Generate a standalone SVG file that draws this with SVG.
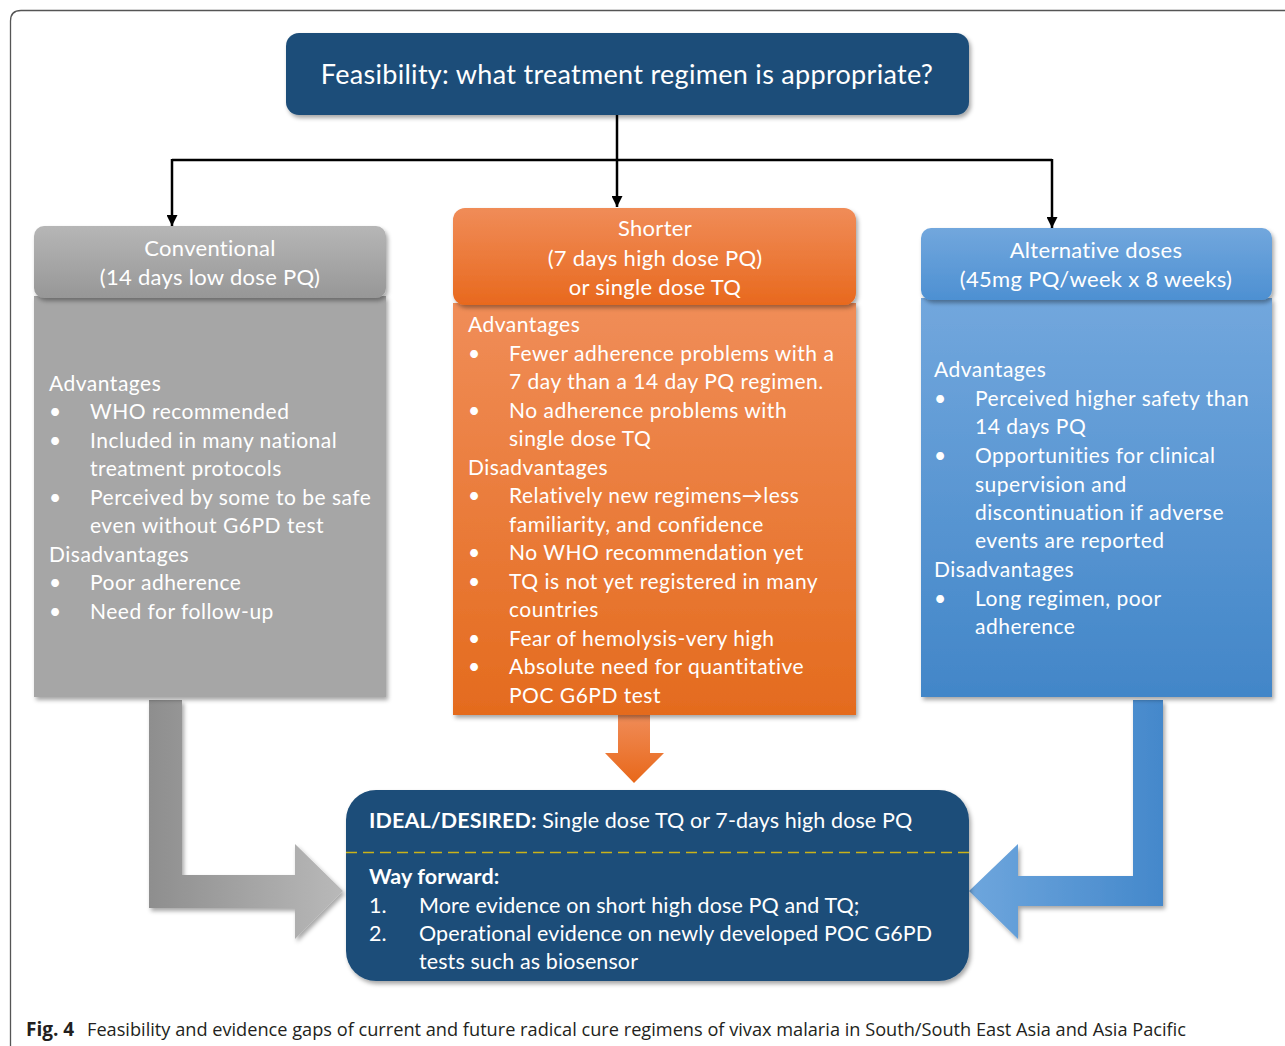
<svg xmlns="http://www.w3.org/2000/svg" width="1285" height="1046" viewBox="0 0 1285 1046">
  <defs>
    <style>
      .t { font-family: Lato, "Open Sans", sans-serif; fill: #ffffff; }
      .body { font-size: 21px; letter-spacing: 0.5px; }
      .head { font-size: 22px; letter-spacing: 0.3px; text-anchor: middle; }
      .low { font-size: 21.5px; letter-spacing: 0.1px; }
      .b { font-weight: bold; }
      .cap { font-family: "Open Sans", "Noto Sans", sans-serif; fill: #231f20; font-size: 19px; }
      .wire { fill: none; stroke: #000; stroke-width: 2.5; }
    </style>
    <filter id="shadow" x="-5%" y="-5%" width="110%" height="115%">
      <feDropShadow dx="2" dy="3" stdDeviation="2" flood-color="#000" flood-opacity="0.35"/>
    </filter>
    <marker id="tip" viewBox="0 0 10 10" refX="10" refY="5" markerUnits="userSpaceOnUse" markerWidth="11" markerHeight="11" orient="auto">
      <path d="M0,0 L10,5 L0,10 z" fill="#000"/>
    </marker>
    <linearGradient id="grayHead" x1="0" y1="0" x2="0" y2="1">
      <stop offset="0" stop-color="#b6b6b6"/>
      <stop offset="1" stop-color="#979797"/>
    </linearGradient>
    <linearGradient id="orangeHead" x1="0" y1="0" x2="0" y2="1">
      <stop offset="0" stop-color="#f08c58"/>
      <stop offset="1" stop-color="#e8691e"/>
    </linearGradient>
    <linearGradient id="orangeBody" x1="0" y1="0" x2="0" y2="1">
      <stop offset="0" stop-color="#f08d58"/>
      <stop offset="1" stop-color="#e46b1e"/>
    </linearGradient>
    <linearGradient id="blueHead" x1="0" y1="0" x2="0" y2="1">
      <stop offset="0" stop-color="#72a7dd"/>
      <stop offset="1" stop-color="#4d90d2"/>
    </linearGradient>
    <linearGradient id="blueBody" x1="0" y1="0" x2="0" y2="1">
      <stop offset="0" stop-color="#72a7dd"/>
      <stop offset="1" stop-color="#4286c8"/>
    </linearGradient>
    <linearGradient id="grayArrow" gradientUnits="userSpaceOnUse" x1="149" y1="0" x2="343" y2="0">
      <stop offset="0" stop-color="#8e8e8e"/>
      <stop offset="1" stop-color="#b9b9b9"/>
    </linearGradient>
    <linearGradient id="blueArrow" gradientUnits="userSpaceOnUse" x1="969" y1="0" x2="1163" y2="0">
      <stop offset="0" stop-color="#6ea6dd"/>
      <stop offset="1" stop-color="#4488cb"/>
    </linearGradient>
    <linearGradient id="orangeArrow" gradientUnits="userSpaceOnUse" x1="0" y1="715" x2="0" y2="783">
      <stop offset="0" stop-color="#f08c58"/>
      <stop offset="1" stop-color="#e8681a"/>
    </linearGradient>
  </defs>

  <rect width="1285" height="1046" fill="#ffffff"/>

  <!-- figure frame, open to the right and bottom -->
  <path d="M10.5,1046 V21 Q10.5,10.5 21,10.5 H1285" fill="none" stroke="#555" stroke-width="1.3"/>

  <!-- connectors -->
  <g id="connectors">
    <path class="wire" d="M617,115 V207" marker-end="url(#tip)"/>
    <path class="wire" d="M172,160 H1052"/>
    <path class="wire" d="M172,159 V226" marker-end="url(#tip)"/>
    <path class="wire" d="M1052,159 V228" marker-end="url(#tip)"/>
    <path d="M149,700 H182 V875 H295 V844 L343,891 L295,939 V908 H149 Z" fill="url(#grayArrow)" filter="url(#shadow)"/>
    <path d="M618,715 H650 V753 H664 L634,783 L605,753 H618 Z" fill="url(#orangeArrow)"/>
    <path d="M1133,700 H1163 V906 H1018 V939 L969,891 L1018,844 V876 H1133 Z" fill="url(#blueArrow)" filter="url(#shadow)"/>
  </g>

  <!-- question -->
  <g id="question">
    <rect x="286" y="33" width="683" height="82" rx="13" fill="#1f4e79" filter="url(#shadow)"/>
    <text class="t" x="627" y="84" font-size="27" letter-spacing="0.3" text-anchor="middle">Feasibility: what treatment regimen is appropriate?</text>
  </g>

  <!-- conventional regimen -->
  <g id="conventional">
    <rect x="34" y="296" width="352" height="401" fill="#a6a6a6" filter="url(#shadow)"/>
    <rect x="34" y="226" width="352" height="72" rx="10" fill="url(#grayHead)" filter="url(#shadow)"/>
    <text class="t head" x="210" y="256">Conventional</text>
    <text class="t head" x="210" y="285">(14 days low dose PQ)</text>
    <text class="t body">
      <tspan x="49" y="391">Advantages</tspan>
      <tspan x="49" y="419">•</tspan><tspan x="90" y="419">WHO recommended</tspan>
      <tspan x="49" y="448">•</tspan><tspan x="90" y="448">Included in many national</tspan>
      <tspan x="90" y="476">treatment protocols</tspan>
      <tspan x="49" y="505">•</tspan><tspan x="90" y="505">Perceived by some to be safe</tspan>
      <tspan x="90" y="533">even without G6PD test</tspan>
      <tspan x="49" y="562">Disadvantages</tspan>
      <tspan x="49" y="590">•</tspan><tspan x="90" y="590">Poor adherence</tspan>
      <tspan x="49" y="619">•</tspan><tspan x="90" y="619">Need for follow-up</tspan>
    </text>
  </g>

  <!-- shorter regimen -->
  <g id="shorter">
    <rect x="453" y="303" width="403" height="412" fill="url(#orangeBody)" filter="url(#shadow)"/>
    <rect x="453" y="208" width="403" height="97" rx="12" fill="url(#orangeHead)" filter="url(#shadow)"/>
    <text class="t head" x="655" y="236">Shorter</text>
    <text class="t head" x="655" y="266">(7 days high dose PQ)</text>
    <text class="t head" x="655" y="295">or single dose TQ</text>
    <text class="t body">
      <tspan x="468" y="332">Advantages</tspan>
      <tspan x="468" y="361">•</tspan><tspan x="509" y="361">Fewer adherence problems with a</tspan>
      <tspan x="509" y="389">7 day than a 14 day PQ regimen.</tspan>
      <tspan x="468" y="418">•</tspan><tspan x="509" y="418">No adherence problems with</tspan>
      <tspan x="509" y="446">single dose TQ</tspan>
      <tspan x="468" y="475">Disadvantages</tspan>
      <tspan x="468" y="503">•</tspan><tspan x="509" y="503">Relatively new regimens→less</tspan>
      <tspan x="509" y="532">familiarity, and confidence</tspan>
      <tspan x="468" y="560">•</tspan><tspan x="509" y="560">No WHO recommendation yet</tspan>
      <tspan x="468" y="589">•</tspan><tspan x="509" y="589">TQ is not yet registered in many</tspan>
      <tspan x="509" y="617">countries</tspan>
      <tspan x="468" y="646">•</tspan><tspan x="509" y="646">Fear of hemolysis-very high</tspan>
      <tspan x="468" y="674">•</tspan><tspan x="509" y="674">Absolute need for quantitative</tspan>
      <tspan x="509" y="703">POC G6PD test</tspan>
    </text>
  </g>

  <!-- alternative doses -->
  <g id="alternative">
    <rect x="921" y="298" width="351" height="399" fill="url(#blueBody)" filter="url(#shadow)"/>
    <rect x="921" y="228" width="351" height="72" rx="10" fill="url(#blueHead)" filter="url(#shadow)"/>
    <text class="t head" x="1096" y="258">Alternative doses</text>
    <text class="t head" x="1096" y="287">(45mg PQ/week x 8 weeks)</text>
    <text class="t body">
      <tspan x="934" y="377">Advantages</tspan>
      <tspan x="934" y="406">•</tspan><tspan x="975" y="406">Perceived higher safety than</tspan>
      <tspan x="975" y="434">14 days PQ</tspan>
      <tspan x="934" y="463">•</tspan><tspan x="975" y="463">Opportunities for clinical</tspan>
      <tspan x="975" y="492">supervision and</tspan>
      <tspan x="975" y="520">discontinuation if adverse</tspan>
      <tspan x="975" y="548">events are reported</tspan>
      <tspan x="934" y="577">Disadvantages</tspan>
      <tspan x="934" y="606">•</tspan><tspan x="975" y="606">Long regimen, poor</tspan>
      <tspan x="975" y="634">adherence</tspan>
    </text>
  </g>

  <!-- ideal regimen and way forward -->
  <g id="ideal">
    <rect x="346" y="790" width="623" height="191" rx="30" fill="#1f4e79" filter="url(#shadow)"/>
    <line x1="346" y1="852.5" x2="969" y2="852.5" stroke="#c9b21a" stroke-width="1.5" stroke-dasharray="11,6"/>
    <text class="t low" x="369" y="828"><tspan class="b">IDEAL/DESIRED:</tspan> Single dose TQ or 7-days high dose PQ</text>
    <text class="t low b" x="369" y="884">Way forward:</text>
    <text class="t low">
      <tspan x="369" y="913">1.</tspan><tspan x="419" y="913">More evidence on short high dose PQ and TQ;</tspan>
      <tspan x="369" y="941">2.</tspan><tspan x="419" y="941">Operational evidence on newly developed POC G6PD</tspan>
      <tspan x="419" y="969">tests such as biosensor</tspan>
    </text>
  </g>

  <!-- caption -->
  <text class="cap" y="1036"><tspan x="26" font-weight="bold">Fig. 4</tspan></text>
  <text class="cap" x="87" y="1036" textLength="1099" lengthAdjust="spacingAndGlyphs">Feasibility and evidence gaps of current and future radical cure regimens of vivax malaria in South/South East Asia and Asia Pacific</text>
</svg>
